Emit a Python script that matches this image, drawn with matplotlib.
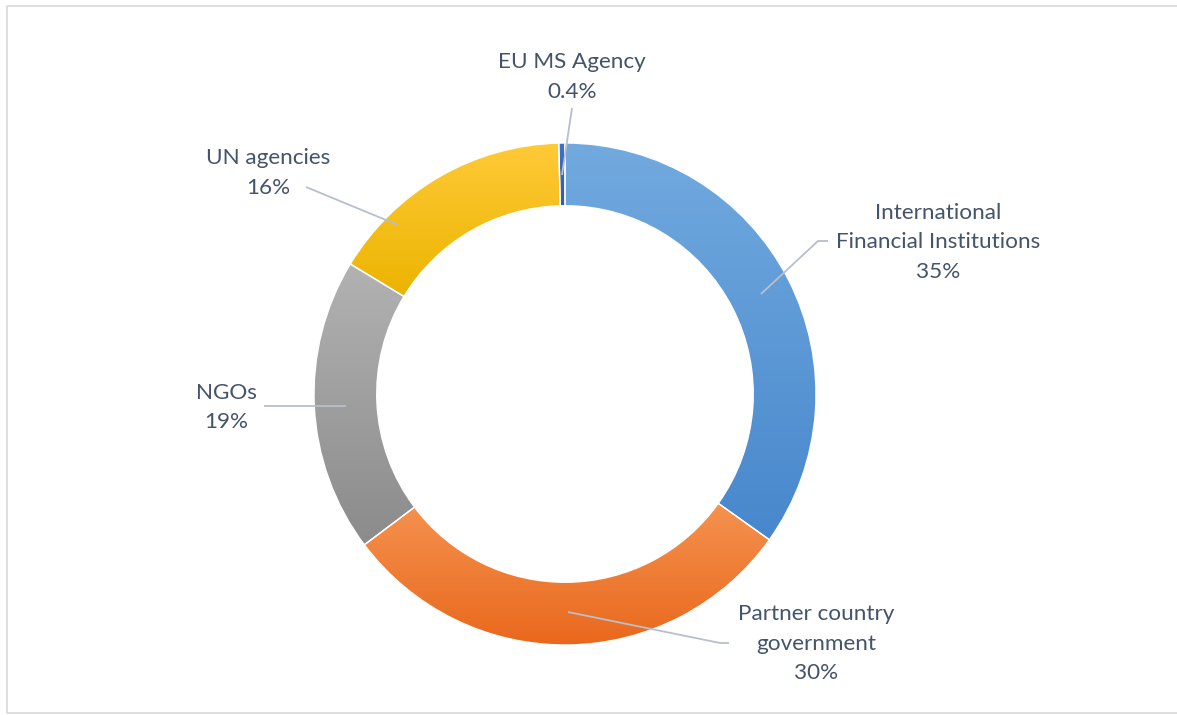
import numpy as np
import matplotlib
matplotlib.use("Agg")
import matplotlib.pyplot as plt
from matplotlib.colors import LinearSegmentedColormap

plt.rcParams['font.family'] = ['Lato', 'DejaVu Sans']

# funding share by channel, clockwise from 12 o'clock
labels = ["International\nFinancial Institutions", "Partner country\ngovernment",
          "NGOs", "UN agencies", "EU MS Agency"]
shares = [35, 30, 19, 16, 0.4]
pct_text = ["35%", "30%", "19%", "16%", "0.4%"]

# top / bottom colours of each segment's gradient
tops = ["#72aadf", "#f5924f", "#b2b2b2", "#ffca38", "#3f72c8"]
bottoms = ["#4787cc", "#e9681d", "#8b8b8b", "#ebb400", "#2d5cb5"]

W, H = 1177, 715
fig = plt.figure(figsize=(W / 100, H / 100), dpi=100)
ax = fig.add_axes([0, 0, 1, 1])

# pixel-style coordinates, y measured from the top
def py(y):
    return H - y

cx, cy, r = 565, py(394), 251
wedges, _ = ax.pie(shares, center=(cx, cy), radius=r, startangle=90,
                   counterclock=False, frame=True,
                   wedgeprops=dict(width=r * 0.25, edgecolor='white', linewidth=1.0))

# vertical gradient fill clipped to each wedge
grad = np.linspace(0, 1, 256).reshape(-1, 1)
for w, c0, c1 in zip(wedges, tops, bottoms):
    ext = w.get_path().get_extents(w.get_patch_transform())
    cmap = LinearSegmentedColormap.from_list('g', [c1, c0])
    img = ax.imshow(grad, cmap=cmap, aspect='auto', origin='lower',
                    extent=(ext.x0, ext.x1, ext.y0, ext.y1), zorder=1.5)
    img.set_clip_path(w)
    w.set_facecolor('none')
    w.set_zorder(2)
ax.set_xlim(0, W)
ax.set_ylim(0, H)
ax.set_aspect('equal')
ax.axis('off')

txt_col = "#44546a"
line_col = "#b8bfcc"
fs = 16.2

# label blocks: name lines then percentage
label_pos = [(938, 213), (816, 614), (226, 393), (268, 158), (572, 62)]
step = 29.5
for name, pct, (x, y) in zip(labels, pct_text, label_pos):
    lines = name.split("\n") + [pct]
    for i, s in enumerate(lines):
        ax.text(x, py(y + i * step), s, ha='center', va='center',
                fontsize=fs, color=txt_col)

# leader lines
leaders = [
    [(761, 294), (818, 241), (828, 241)],
    [(568, 612), (720, 643), (729, 643)],
    [(346, 406), (264, 406)],
    [(398, 225), (306, 187)],
    [(562, 175), (572, 108)],
]
for pts in leaders:
    xs = [p[0] for p in pts]
    ys = [py(p[1]) for p in pts]
    ax.plot(xs, ys, color=line_col, lw=1.3, zorder=3, solid_capstyle='butt')

# chart area frame: left, top and bottom edges only
ax.plot([W + 5, 7, 7, W + 5], [py(6), py(6), py(713), py(713)],
        color='#d9d9d9', lw=1.2, zorder=0)

fig.savefig("out.png", dpi=100)
